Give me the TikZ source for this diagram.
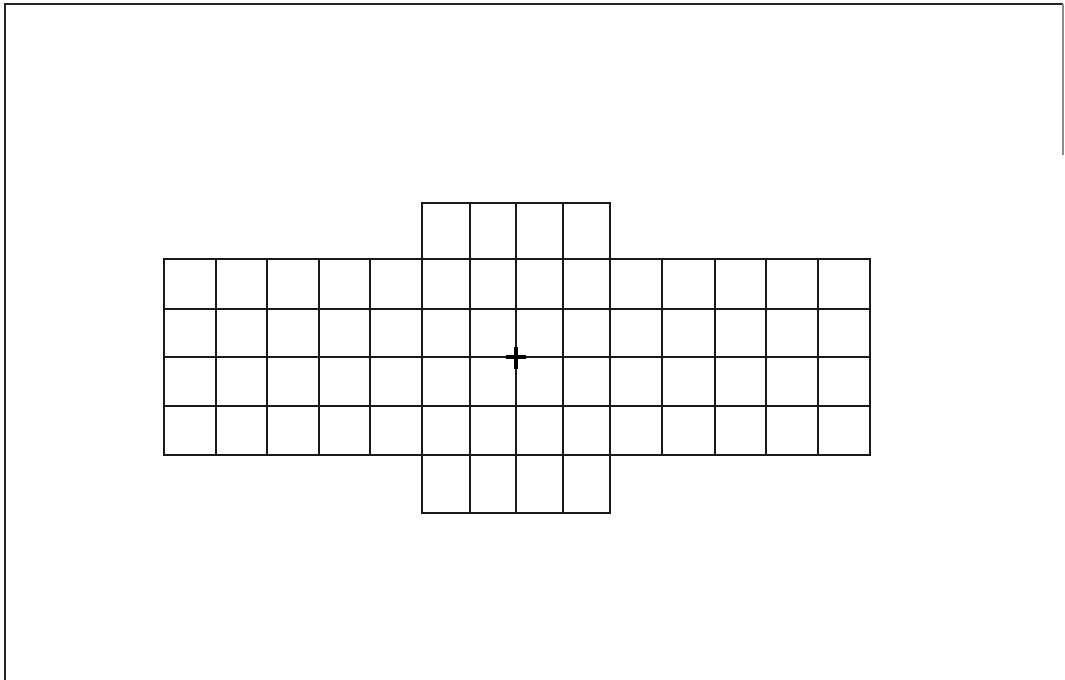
\documentclass[tikz,border=0pt]{standalone}
\begin{document}
\begin{tikzpicture}[x=0.75pt,y=-0.75pt,
  gridline/.style={line width=1.5pt, black!90, line cap=rect},
  frameline/.style={line width=1.5pt, black!85},
  faintline/.style={line width=1.1pt, black!45},
  crossmark/.style={line width=2.4pt, black}]
\useasboundingbox (0,0) rectangle (1065,680);
\fill[white] (0,0) rectangle (1065,680);
% frame
\draw[frameline] (5,680) -- (5,4) -- (1063,4);
\draw[faintline] (1063,4) -- (1063,155);
% main band: horizontal lines
\foreach \y in {259.5,309,357,406,455.5}
  \draw[gridline] (164,\y) -- (870,\y);
% main band: vertical lines
\foreach \x in {164,215.5,267,318.5,370,422,469.5,516,563,610,662,714.5,766,818,870}
  \draw[gridline] (\x,259.5) -- (\x,455.5);
% central tower: vertical lines
\foreach \x in {422,469.5,516,563,610}
  \draw[gridline] (\x,203) -- (\x,513);
% central tower: top and bottom
\draw[gridline] (422,203) -- (610,203);
\draw[gridline] (422,513) -- (610,513);
% centre mark
\draw[crossmark] (506,357) -- (526,357);
\draw[crossmark] (516,347) -- (516,369);
\end{tikzpicture}
\end{document}
